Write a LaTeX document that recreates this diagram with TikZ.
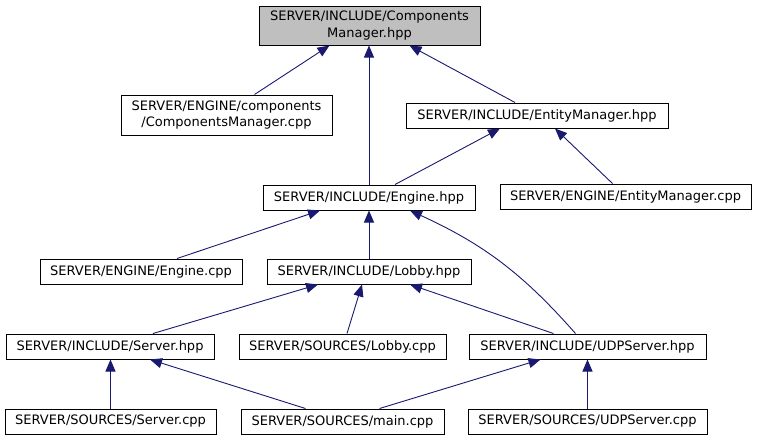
\documentclass[tikz,border=0pt]{standalone}
\usepackage{fontspec}
\setmainfont{DejaVu Sans}
\usepackage{xcolor}
\definecolor{edgeblue}{HTML}{191970}
\definecolor{rootgray}{HTML}{BFBFBF}
\usetikzlibrary{calc,arrows.meta}

\begin{document}
\begin{tikzpicture}[
        x=1pt, y=-1pt,
        file/.style={draw, line width=1pt, fill=white, inner sep=0pt, minimum height=25pt, align=center, font=\fontsize{13}{16.5}\selectfont},
        root/.style={file, fill=rootgray, minimum height=39pt},
        arr/.style={->, color=edgeblue, line width=0.9pt, >={Triangle[length=12pt,width=10pt]}},
    ]
    \useasboundingbox (0,0) rectangle (757,440);

    % === Row 0: header being included ===
    \node[root, minimum width=221pt] (cmhpp) at (369.5,25.5) {SERVER/INCLUDE/Components\\Manager.hpp};

    % === Row 1 ===
    \node[file, minimum width=211pt, minimum height=40pt] (cmcpp) at (226.5,115) {SERVER/ENGINE/components\\/ComponentsManager.cpp};
    \node[file, minimum width=262pt] (emhpp) at (537,115.5) {SERVER/INCLUDE/EntityManager.hpp};

    % === Row 2 ===
    \node[file, minimum width=212pt] (enghpp) at (369,197.5) {SERVER/INCLUDE/Engine.hpp};
    \node[file, minimum width=251pt] (emcpp) at (625.5,196.5) {SERVER/ENGINE/EntityManager.cpp};

    % === Row 3 ===
    \node[file, minimum width=202pt] (engcpp) at (141,271.5) {SERVER/ENGINE/Engine.cpp};
    \node[file, minimum width=204pt] (lobhpp) at (369,271.5) {SERVER/INCLUDE/Lobby.hpp};

    % === Row 4 ===
    \node[file, minimum width=208pt] (srvhpp) at (110,346.5) {SERVER/INCLUDE/Server.hpp};
    \node[file, minimum width=207pt] (lobcpp) at (342.5,346.5) {SERVER/SOURCES/Lobby.cpp};
    \node[file, minimum width=237pt] (udphpp) at (587.5,346.5) {SERVER/INCLUDE/UDPServer.hpp};

    % === Row 5 ===
    \node[file, minimum width=211pt] (srvcpp) at (110.5,421.5) {SERVER/SOURCES/Server.cpp};
    \node[file, minimum width=203pt] (maincpp) at (342.5,421.5) {SERVER/SOURCES/main.cpp};
    \node[file, minimum width=239pt] (udpcpp) at (587.5,421.5) {SERVER/SOURCES/UDPServer.cpp};

    % === Include edges (arrow points at the included file) ===
    \draw[arr] ([xshift=28pt]cmcpp.north) -- ([xshift=-40pt]cmhpp.south);
    \draw[arr] (enghpp.north) -- (enghpp.north |- cmhpp.south);
    \draw[arr] ([xshift=-22pt]emhpp.north) -- ([xshift=40pt]cmhpp.south);
    \draw[arr] ([xshift=26pt]enghpp.north) -- ([xshift=-37pt]emhpp.south);
    \draw[arr] ([xshift=-13pt]emcpp.north) -- ([xshift=18pt]emhpp.south);
    \draw[arr] ([xshift=36pt]engcpp.north) -- ([xshift=-49pt]enghpp.south);
    \draw[arr] (lobhpp.north) -- (enghpp.south);
    \draw[arr] ([xshift=-12pt]udphpp.north) to[bend right=12] ([xshift=41pt]enghpp.south);
    \draw[arr] ([xshift=43pt]srvhpp.north) -- ([xshift=-51pt]lobhpp.south);
    \draw[arr] ([xshift=4.5pt]lobcpp.north) -- ([xshift=-7pt]lobhpp.south);
    \draw[arr] ([xshift=-34pt]udphpp.north) -- ([xshift=41pt]lobhpp.south);
    \draw[arr] (srvcpp.north) -- (srvcpp.north |- srvhpp.south);
    \draw[arr] ([xshift=-37pt]maincpp.north) -- ([xshift=40pt]srvhpp.south);
    \draw[arr] ([xshift=37pt]maincpp.north) -- ([xshift=-47pt]udphpp.south);
    \draw[arr] (udpcpp.north) -- (udpcpp.north |- udphpp.south);

\end{tikzpicture}
\end{document}
